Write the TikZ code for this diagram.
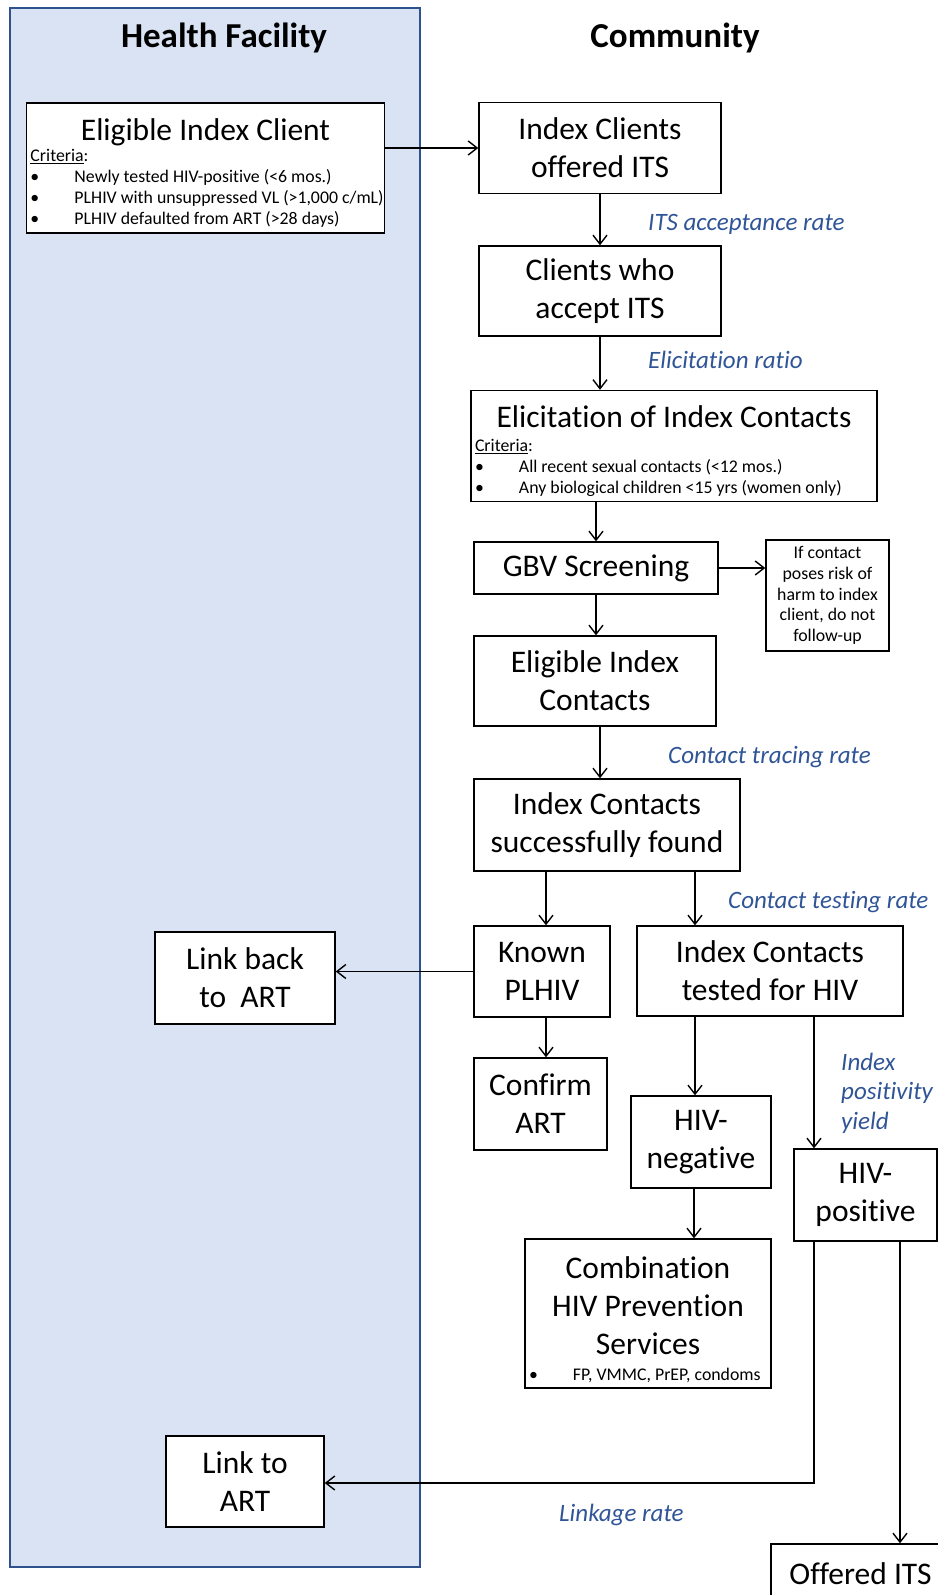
\documentclass[tikz,border=0pt]{standalone}
\usepackage{fontspec}
\setmainfont{Carlito}[Ligatures={TeX,NoCommon}]
\usetikzlibrary{arrows.meta}
\definecolor{panelfill}{HTML}{DAE3F3}
\definecolor{panelline}{HTML}{2F528F}
\definecolor{ratecol}{HTML}{2F5597}
\newcommand{\boxfont}{\fontsize{31.5}{38}\selectfont}
\newcommand{\headfont}{\fontsize{35}{40}\selectfont\bfseries}
\newcommand{\ratefont}{\fontsize{25}{29.5}\selectfont\itshape}
\newcommand{\critfont}{\fontsize{17.8}{20.8}\selectfont}
\newcommand{\critem}[1]{\mbox{\makebox[44pt][l]{•}#1}}
\newcommand{\nospread}{\spaceskip=0pt\xspaceskip=0pt\relax}
\newcommand{\topgap}[1]{\rule{0pt}{\dimexpr\fontcharht\font`\l+#1\relax}}
\tikzset{
  box/.style={draw, line width=1.4pt, fill=white, align=center, inner sep=4pt, font=\boxfont},
  listbox/.style={box, align=flush left},
  note/.style={box, font=\critfont, inner sep=2pt},
  rate/.style={anchor=west, inner sep=0pt, align=left, font=\ratefont, text=ratecol},
  head/.style={font=\headfont, inner sep=0pt},
  flow/.style={line width=1.4pt, -{Straight Barb[length=9pt,width=14pt]}},
}
\begin{document}
\begin{tikzpicture}[x=1pt, y=-1pt]
  \useasboundingbox (0,0) rectangle (937,1595);
  % health facility column
  \draw[panelline, fill=panelfill, line width=1.5pt] (10,8) rectangle (420,1567);
  \node[head] (hf) at (224,38) {Health Facility};
  \node[head] (comm) at (675,38) {Community};

  \node[listbox, text width=350pt, minimum height=130pt] (eic) at (205.5,168)
    {\nospread{\centering\topgap{10pt}Eligible Index Client\par}
     {\critfont\underline{Criteria}:\\
      \critem{Newly tested HIV-positive (<6 mos.)}\\
      \critem{PLHIV with unsuppressed VL (>1,000 c/mL)}\\
      \critem{PLHIV defaulted from ART (>28 days)}\par}};
  \node[box, minimum width=242pt, minimum height=90.5pt] (offered) at (600,148) {Index Clients\\offered ITS};
  \node[box, minimum width=242pt, minimum height=90pt] (accept) at (600,291) {Clients who\\accept ITS};
  \node[listbox, text width=398pt, minimum height=111pt] (elicit) at (674,446)
    {\nospread{\centering\topgap{10pt}Elicitation of Index Contacts\par}
     \vspace{3pt}
     {\critfont\underline{Criteria}:\\
      \critem{All recent sexual contacts (<12 mos.)}\\
      \critem{Any biological children <15 yrs (women only)}\par}};
  \node[box, minimum width=244pt, minimum height=52pt] (gbv) at (596,568) {GBV Screening};
  \node[note, minimum width=123pt, minimum height=111pt] (harm) at (827.5,595.5)
    {If contact\\poses risk of\\harm to index\\client, do not\\follow-up};
  \node[box, minimum width=242pt, minimum height=90pt] (eligc) at (595,681) {Eligible Index\\Contacts};
  \node[box, minimum width=266pt, minimum height=92pt] (found) at (607,825) {Index Contacts\\successfully found};
  \node[box, minimum width=136pt, minimum height=91pt] (known) at (542,971.5) {Known\\PLHIV};
  \node[box, minimum width=266pt, minimum height=90pt] (tested) at (770,971) {Index Contacts\\tested for HIV};
  \node[box, minimum width=180pt, minimum height=92pt] (linkback) at (245,978) {Link back\\to\ \ ART};
  \node[box, minimum width=133pt, minimum height=92pt] (confirm) at (540.5,1104) {Confirm\\ART};
  \node[box, minimum width=140pt, minimum height=92pt] (neg) at (701,1142) {HIV-\\negative};
  \node[box, minimum width=143pt, minimum height=92pt] (pos) at (865.5,1195) {HIV-\\positive};
  \node[listbox, text width=238pt, minimum height=149pt] (combo) at (648,1313.5)
    {\nospread{\centering\topgap{12pt}Combination\\HIV Prevention\\Services\par}
     \vspace{5pt}
     {\critfont\critem{FP, VMMC, PrEP, condoms}\par}};
  \node[box, minimum width=158pt, minimum height=91pt] (linkart) at (245,1481.5) {Link to\\ART};
  \node[box, minimum width=179pt, minimum height=60pt] (offits) at (860.5,1574) {Offered ITS};

  % rates
  \node[rate] (accrate) at (648,224) {ITS acceptance rate};
  \node[rate] (elicrate) at (648,360) {Elicitation ratio};
  \node[rate] (tracerate) at (668,757) {Contact tracing rate};
  \node[rate] (testrate) at (728,902) {Contact testing rate};
  \node[rate] (yield) at (841,1093) {Index\\positivity\\yield};
  \node[rate] (linkrate) at (559,1515) {Linkage rate};

  % arrows
  \draw[flow] (eic.east |- offered.west) -- (offered.west);
  \draw[flow] (offered.south) -- (accept.north);
  \draw[flow] (accept.south) -- (accept.south |- elicit.north);
  \draw[flow] (gbv.north |- elicit.south) -- (gbv.north);
  \draw[flow] (gbv.east) -- (gbv.east -| harm.west);
  \draw[flow] (gbv.south) -- (gbv.south |- eligc.north);
  \draw[flow] ([xshift=5pt]eligc.south) -- ([xshift=5pt]eligc.south |- found.north);
  \draw[flow] ([xshift=4pt]known.north |- found.south) -- ([xshift=4pt]known.north);
  \draw[flow] ([xshift=-75pt]tested.north |- found.south) -- ([xshift=-75pt]tested.north);
  \draw[flow] (known.west) -- (known.west -| linkback.east);
  \draw[flow] ([xshift=4pt]known.south) -- ([xshift=4pt]known.south |- confirm.north);
  \draw[flow] ([xshift=-75pt]tested.south) -- ([xshift=-75pt]tested.south |- neg.north);
  \draw[flow] ([xshift=-51.5pt]pos.north |- tested.south) -- ([xshift=-51.5pt]pos.north);
  \draw[flow] ([xshift=-7pt]neg.south) -- ([xshift=-7pt]neg.south |- combo.north);
  \draw[flow] ([xshift=-51.5pt]pos.south) |- ([yshift=-1.5pt]linkart.east);
  \draw[flow] ([xshift=34.5pt]pos.south) -- ([xshift=34.5pt]pos.south |- offits.north);
\end{tikzpicture}
\end{document}
